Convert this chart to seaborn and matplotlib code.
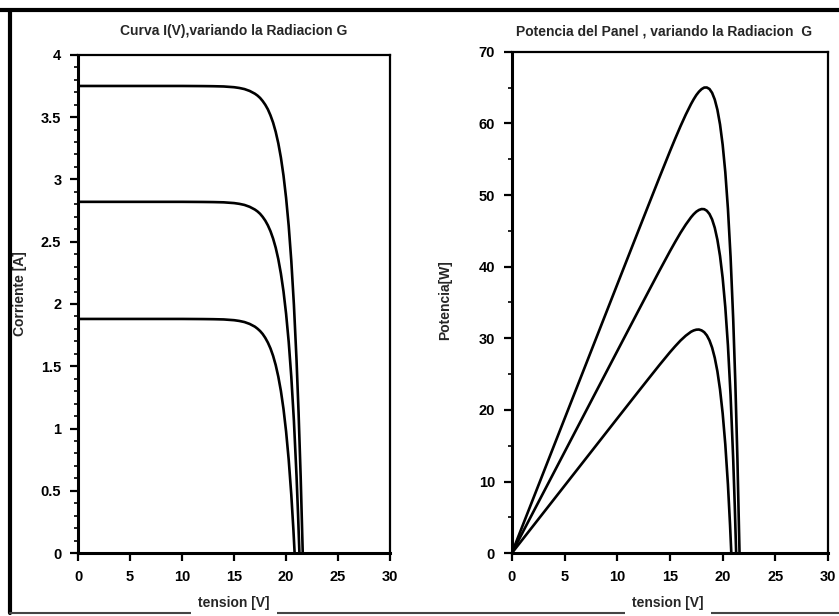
import pandas as pd
import matplotlib.pyplot as plt
import numpy as np
import seaborn as sns
from matplotlib.lines import Line2D
from matplotlib.ticker import MultipleLocator

# curvas (G = 1000, 750, 500 W/m2)
v_1000 = [0, 2, 4, 6, 8, 10, 12, 13, 14, 15, 15.5, 16, 16.5, 17, 17.25, 17.5, 17.75, 18, 18.25,
          18.5, 18.75, 19, 19.25, 19.5, 19.75, 20, 20.25, 20.5, 20.75, 21, 21.2, 21.4, 21.6]
i_1000 = [3.75, 3.75, 3.75, 3.75, 3.75, 3.75, 3.749, 3.748, 3.746, 3.740, 3.734, 3.725, 3.710,
          3.688, 3.673, 3.654, 3.629, 3.599, 3.562, 3.514, 3.456, 3.382, 3.290, 3.175, 3.031,
          2.851, 2.627, 2.346, 1.994, 1.556, 1.126, 0.614, 0]
p_1000 = [0, 7.5, 15.0, 22.5, 30.0, 37.5, 44.99, 48.72, 52.44, 56.1, 57.88, 59.6, 61.22, 62.7,
          63.36, 63.95, 64.42, 64.78, 65.0, 65.01, 64.8, 64.26, 63.33, 61.91, 59.86, 57.02,
          53.2, 48.09, 41.38, 32.68, 23.87, 13.14, 0]

v_750 = [0, 2, 4, 6, 8, 10, 12, 13, 14, 15, 15.5, 16, 16.5, 17, 17.25, 17.5, 17.75, 18, 18.25,
         18.5, 18.75, 19, 19.25, 19.5, 19.75, 20, 20.25, 20.5, 20.75, 21, 21.15, 21.28]
i_750 = [2.82, 2.82, 2.82, 2.82, 2.82, 2.82, 2.819, 2.818, 2.816, 2.810, 2.804, 2.795, 2.780,
         2.758, 2.743, 2.724, 2.699, 2.669, 2.631, 2.584, 2.525, 2.452, 2.360, 2.244, 2.101,
         1.921, 1.696, 1.415, 1.063, 0.624, 0.309, 0]
p_750 = [0, 5.64, 11.28, 16.92, 22.56, 28.2, 33.83, 36.63, 39.42, 42.15, 43.46, 44.72, 45.87,
         46.89, 47.32, 47.67, 47.91, 48.04, 48.02, 47.80, 47.35, 46.59, 45.43, 43.76, 41.49,
         38.42, 34.34, 29.01, 22.06, 13.1, 6.54, 0]

v_500 = [0, 2, 4, 6, 8, 10, 12, 13, 14, 15, 15.5, 16, 16.5, 17, 17.25, 17.5, 17.75, 18, 18.25,
         18.5, 18.75, 19, 19.25, 19.5, 19.75, 20, 20.25, 20.5, 20.7, 20.82]
i_500 = [1.88, 1.88, 1.88, 1.88, 1.88, 1.88, 1.879, 1.878, 1.876, 1.870, 1.864, 1.855, 1.840,
         1.818, 1.802, 1.783, 1.759, 1.728, 1.690, 1.643, 1.584, 1.510, 1.417, 1.302, 1.157,
         0.976, 0.750, 0.468, 0.191, 0]
p_500 = [0, 3.76, 7.52, 11.28, 15.04, 18.8, 22.55, 24.41, 26.26, 28.05, 28.89, 29.68, 30.36,
         30.91, 31.09, 31.2, 31.22, 31.1, 30.85, 30.4, 29.7, 28.69, 27.28, 25.39, 22.85, 19.52,
         15.19, 9.59, 3.95, 0]

i_ticks = [0, 0.5, 1, 1.5, 2, 2.5, 3, 3.5, 4]
i_ticklabels = ["0", "0.5", "1", "1.5", "2", "2.5", "3", "3.5", "4"]
p_ticks = [0, 10, 20, 30, 40, 50, 60, 70]
v_ticks = [0, 5, 10, 15, 20, 25, 30]

frames = []
for g, v, i, p in [(1000, v_1000, i_1000, p_1000), (750, v_750, i_750, p_750),
                   (500, v_500, i_500, p_500)]:
    frames.append(pd.DataFrame({"V": v, "I": i, "P": p, "G": g}))
df = pd.concat(frames, ignore_index=True)

sns.set_style("ticks")
plt.rcParams['font.family'] = ['Liberation Sans', 'DejaVu Sans']
plt.rcParams['font.weight'] = 'bold'

fig = plt.figure(figsize=(8.39, 6.16), dpi=100)
ax1 = fig.add_axes([0.093, 0.102, 0.372, 0.809])
ax2 = fig.add_axes([0.610, 0.102, 0.377, 0.814])

pal = {1000: "black", 750: "black", 500: "black"}
sns.lineplot(data=df, x="V", y="I", hue="G", units="G", estimator=None, sort=False,
             palette=pal, linewidth=1.9, legend=False, ax=ax1)
sns.lineplot(data=df, x="V", y="P", hue="G", units="G", estimator=None, sort=False,
             palette=pal, linewidth=1.9, legend=False, ax=ax2)

ax1.set_xlim(0, 30)
ax1.set_ylim(0, 4)
ax1.set_yticks(i_ticks)
ax1.set_yticklabels(i_ticklabels)
ax1.yaxis.set_minor_locator(MultipleLocator(0.1))
ax2.set_xlim(0, 30)
ax2.set_ylim(0, 70)
ax2.set_yticks(p_ticks)
ax2.yaxis.set_minor_locator(MultipleLocator(5))

for ax in (ax1, ax2):
    ax.set_xticks(v_ticks)
    for s in ax.spines.values():
        s.set_visible(True)
        s.set_linewidth(1.6)
        s.set_color("black")
    ax.spines["left"].set_linewidth(2.2)
    ax.spines["bottom"].set_linewidth(2.2)
    ax.tick_params(which="major", direction="out", length=6, width=1.6, labelsize=10.5,
                   colors="black", pad=6)
    ax.tick_params(which="minor", direction="out", length=3, width=1.4)
    for lab in ax.get_xticklabels() + ax.get_yticklabels():
        lab.set_fontweight("bold")

ax1.set_title("Curva I(V),variando la Radiacion G", fontsize=10, fontweight="bold", pad=14)
ax2.set_title("Potencia del Panel , variando la Radiacion  G", fontsize=10,
              fontweight="bold", pad=12, x=0.481)

box = dict(facecolor="white", edgecolor="none", pad=5)
ax1.set_xlabel("tension [V]", fontsize=10, fontweight="bold", bbox=box)
ax2.set_xlabel("tension [V]", fontsize=10, fontweight="bold", bbox=box)
ax1.xaxis.set_label_coords(0.5, -0.086)
ax2.xaxis.set_label_coords(0.494, -0.086)
ax1.set_ylabel("Corriente [A]", fontsize=10, fontweight="bold")
ax2.set_ylabel("Potencia[W]", fontsize=10, fontweight="bold")
ax1.yaxis.set_label_coords(-0.163, 0.52)
ax2.yaxis.set_label_coords(-0.19, 0.505)

# marco del documento escaneado
fig.lines.append(Line2D([0.0, 1.0], [0.984, 0.984], transform=fig.transFigure,
                        color="black", linewidth=3, zorder=-1))
fig.lines.append(Line2D([0.012, 0.012], [0.005, 0.984], transform=fig.transFigure,
                        color="black", linewidth=3, zorder=-1))
fig.lines.append(Line2D([0.012, 1.0], [0.005, 0.005], transform=fig.transFigure,
                        color="#444444", linewidth=1.5, zorder=-1))

plt.savefig("out.png", dpi=100)
